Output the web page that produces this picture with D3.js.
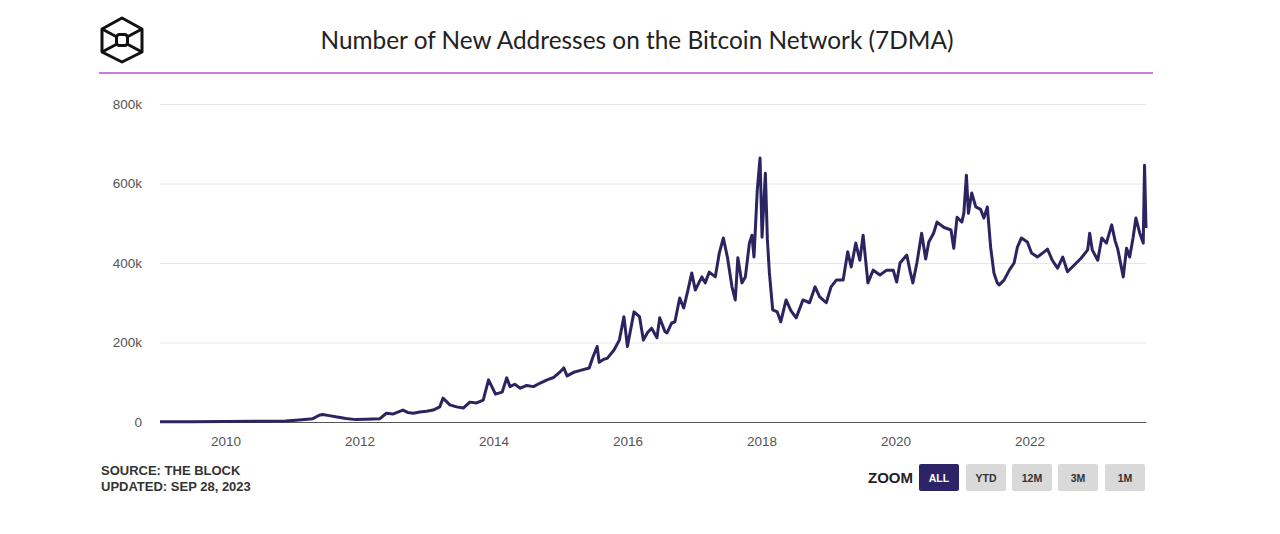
<!DOCTYPE html>
<html>
<head>
<meta charset="utf-8">
<script src="https://cdn.jsdelivr.net/npm/d3@7"></script>
<style>
  html, body { margin: 0; padding: 0; background: #fff; }
  svg { display: block; }
</style>
</head>
<body>
<svg id="chart" width="1280" height="534"></svg>
<script>
// ---- Data (values in thousands of addresses) ----
const titleText = "Number of New Addresses on the Bitcoin Network (7DMA)";
const sourceLines = ["SOURCE: THE BLOCK", "UPDATED: SEP 28, 2023"];
const zoomButtons = ["ALL", "YTD", "12M", "3M", "1M"];
const yTicks = [0, 200000, 400000, 600000, 800000];
const yTickLabels = ["0", "200k", "400k", "600k", "800k"];
const xTickYears = [2010, 2012, 2014, 2016, 2018, 2020, 2022];

const dates = [
  "2009-01-09","2009-07-01","2010-01-01","2010-07-01","2010-11-25","2011-02-06","2011-04-20","2011-05-27","2011-06-14","2011-07-20",
  "2011-08-25","2011-10-20","2011-12-13","2012-02-06","2012-04-20","2012-05-27","2012-07-01","2012-08-25","2012-09-20","2012-10-20",
  "2012-11-25","2013-01-01","2013-02-06","2013-03-14","2013-04-01","2013-05-08","2013-06-14","2013-07-20","2013-08-25","2013-10-01",
  "2013-11-06","2013-12-05","2014-01-12","2014-02-17","2014-03-14","2014-04-01","2014-04-27","2014-05-27","2014-07-01","2014-08-07",
  "2014-09-13","2014-10-20","2014-11-25","2015-01-01","2015-01-19","2015-02-06","2015-03-14","2015-04-20","2015-06-07","2015-06-25",
  "2015-07-20","2015-07-31","2015-08-25","2015-09-13","2015-10-20","2015-11-18","2015-12-13","2016-01-01","2016-02-06","2016-03-07",
  "2016-03-28","2016-04-20","2016-05-12","2016-06-10","2016-06-25","2016-07-24","2016-08-04","2016-08-29","2016-09-16","2016-10-12",
  "2016-11-03","2016-11-25","2016-12-17","2017-01-05","2017-02-10","2017-02-28","2017-03-22","2017-04-24","2017-05-16","2017-06-07",
  "2017-06-29","2017-07-24","2017-08-11","2017-08-25","2017-09-16","2017-10-05","2017-10-27","2017-11-10","2017-11-21","2017-12-09",
  "2017-12-24","2018-01-04","2018-01-22","2018-02-02","2018-02-13","2018-03-03","2018-03-28","2018-04-16","2018-05-15","2018-06-10",
  "2018-07-09","2018-08-15","2018-09-20","2018-10-20","2018-11-14","2018-12-20","2019-01-15","2019-02-13","2019-03-22","2019-04-16",
  "2019-05-05","2019-05-30","2019-06-21","2019-07-09","2019-08-04","2019-09-02","2019-10-09","2019-11-14","2019-12-20","2020-01-08",
  "2020-01-26","2020-03-03","2020-03-22","2020-04-05","2020-04-27","2020-05-23","2020-06-14","2020-07-01","2020-07-27","2020-08-15",
  "2020-09-20","2020-10-30","2020-11-14","2020-12-02","2020-12-28","2021-01-08","2021-01-22","2021-02-02","2021-02-20","2021-03-14",
  "2021-04-09","2021-04-27","2021-05-16","2021-06-03","2021-06-21","2021-07-09","2021-07-20","2021-08-15","2021-09-13","2021-10-09",
  "2021-10-27","2021-11-18","2021-12-20","2022-01-12","2022-02-13","2022-03-22","2022-04-09","2022-05-05","2022-06-03","2022-07-01",
  "2022-07-27","2022-09-02","2022-10-09","2022-11-14","2022-11-25","2022-12-09","2023-01-08","2023-01-30","2023-02-24","2023-03-25",
  "2023-04-12","2023-04-27","2023-05-27","2023-06-14","2023-07-01","2023-07-20","2023-08-04","2023-08-25","2023-09-13","2023-09-20",
  "2023-09-28"
];
const newAddressesK = [
  0.5,0.8,1.5,1.8,2.5,5,8,17,19,16,
  13,9,6,7,8,22,20,30,24,22,
  25,27,30,38,60,43,38,35,50,48,
  55,106,70,75,111,89,95,85,92,89,
  98,106,112,127,136,116,125,130,136,161,
  190,150,158,160,181,206,265,190,277,265,
  206,225,236,212,262,227,224,249,252,312,
  287,330,375,332,365,350,377,365,425,463,
  415,340,307,413,350,365,450,470,415,584,
  664,465,626,460,375,282,277,252,307,280,
  262,307,300,340,315,300,340,357,357,428,
  390,450,407,470,350,382,370,382,382,352,
  400,420,377,350,400,475,410,453,475,503,
  490,483,437,515,503,525,621,525,576,541,
  535,513,541,440,375,350,345,357,382,400,
  440,463,453,425,415,428,435,407,387,415,
  378,395,412,433,475,433,407,463,450,496,
  457,435,365,437,415,465,513,475,450,646,
  488
];

// ---- Build ----
const parse = d3.timeParse("%Y-%m-%d");
const data = dates.map((d, i) => ({ date: parse(d), value: newAddressesK[i] * 1000 }));

const svg = d3.select("#chart");
const plotLeft = 160, plotRight = 1146, plotTop = 104, plotBottom = 422;

const x = d3.scaleTime()
  .domain(d3.extent(data, d => d.date))
  .range([plotLeft, plotRight]);
const y = d3.scaleLinear()
  .domain([0, 800000])
  .range([plotBottom, plotTop]);

// Logo
const logo = svg.append("g").attr("fill", "none").attr("stroke", "#111").attr("stroke-width", 3).attr("stroke-linejoin", "round");
const cx = 122, cy = 40;
const hex = [[122,18],[142,29],[142,52],[122,62],[102,52],[102,29]];
logo.append("polygon").attr("points", hex.map(p => p.join(",")).join(" "));
logo.append("line").attr("x1",102).attr("y1",29).attr("x2",cx-5).attr("y2",cy-3);
logo.append("line").attr("x1",142).attr("y1",29).attr("x2",cx+5).attr("y2",cy-3);
logo.append("line").attr("x1",102).attr("y1",52).attr("x2",cx-5).attr("y2",cy+4);
logo.append("line").attr("x1",142).attr("y1",52).attr("x2",cx+5).attr("y2",cy+4);
logo.append("rect").attr("x",cx-5.5).attr("y",cy-5.5).attr("width",11).attr("height",11).attr("rx",3);

// Title
svg.append("text")
  .attr("x", 637).attr("y", 49)
  .attr("text-anchor", "middle")
  .attr("font-family", "Lato, 'Open Sans', sans-serif")
  .attr("font-size", 24.4)
  .attr("fill", "#222")
  .text(titleText);

// Purple separator
svg.append("line")
  .attr("x1", 99).attr("x2", 1153).attr("y1", 73).attr("y2", 73)
  .attr("stroke", "#c77dde").attr("stroke-width", 2);

// Gridlines + y labels
const yAxis = d3.axisLeft(y).tickValues(yTicks)
  .tickFormat((d, i) => yTickLabels[i])
  .tickSize(-(plotRight - plotLeft)).tickPadding(18);
const gy = svg.append("g").attr("transform", `translate(${plotLeft},0)`).call(yAxis);
gy.select(".domain").remove();
gy.selectAll(".tick line").attr("stroke", "#e6e6e6").attr("stroke-width", 1);
gy.selectAll(".tick text")
  .attr("font-family", "Liberation Sans, Arial, sans-serif")
  .attr("font-size", 13.5).attr("fill", "#555");

// X axis
const xAxis = d3.axisBottom(x)
  .tickValues(xTickYears.map(yr => new Date(yr, 0, 1)))
  .tickFormat(d3.timeFormat("%Y"))
  .tickSize(0).tickPadding(14);
const gx = svg.append("g").attr("transform", `translate(0,${plotBottom})`).call(xAxis);
gx.select(".domain").attr("stroke", "#555").attr("stroke-width", 1.2);
gx.selectAll(".tick text")
  .attr("font-family", "Liberation Sans, Arial, sans-serif")
  .attr("font-size", 13.5).attr("fill", "#555");

// Line
const line = d3.line().x(d => x(d.date)).y(d => y(d.value));
svg.append("path")
  .datum(data)
  .attr("fill", "none")
  .attr("stroke", "#2b2461")
  .attr("stroke-width", 3)
  .attr("stroke-linejoin", "round")
  .attr("d", line);

// Source text
sourceLines.forEach((t, i) => {
  svg.append("text")
    .attr("x", 101).attr("y", 475 + i * 16)
    .attr("font-family", "Liberation Sans, Arial, sans-serif")
    .attr("font-weight", "bold").attr("font-size", 13)
    .attr("fill", "#333")
    .text(t);
});

// Zoom controls
svg.append("text")
  .attr("x", 868).attr("y", 483)
  .attr("font-family", "Liberation Sans, Arial, sans-serif")
  .attr("font-weight", "bold").attr("font-size", 15)
  .attr("fill", "#222")
  .text("ZOOM");
const btnX = [919, 966, 1012, 1058, 1105];
zoomButtons.forEach((b, i) => {
  const active = i === 0;
  svg.append("rect")
    .attr("x", btnX[i]).attr("y", 464).attr("width", 40).attr("height", 27).attr("rx", 2)
    .attr("fill", active ? "#2c2466" : "#d9d9d9");
  svg.append("text")
    .attr("x", btnX[i] + 20).attr("y", 482)
    .attr("text-anchor", "middle")
    .attr("font-family", "Liberation Sans, Arial, sans-serif")
    .attr("font-weight", "bold").attr("font-size", 10.5)
    .attr("fill", active ? "#fff" : "#333")
    .text(b);
});
</script>
</body>
</html>
